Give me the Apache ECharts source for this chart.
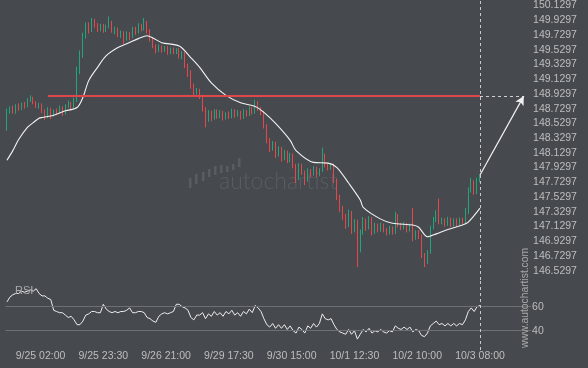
<!DOCTYPE html>
<html><head><meta charset="utf-8">
<script src="https://cdn.jsdelivr.net/npm/echarts@6/dist/echarts.min.js"></script>
<style>html,body{margin:0;padding:0;background:#464a4f}#c{width:588px;height:368px}</style>
</head><body><div id="c"></div><script>
// [open, close, low, high] hourly candles
const candles = [
[148.46,148.68,148.43,148.73],[148.68,148.73,148.66,148.76],[148.73,148.68,148.66,148.77],[148.68,148.77,148.66,148.79],
[148.77,148.72,148.70,148.80],[148.72,148.79,148.71,148.81],[148.79,148.76,148.73,148.82],[148.76,148.84,148.75,148.87],
[148.84,148.88,148.82,148.91],[148.88,148.81,148.79,148.89],[148.81,148.76,148.74,148.83],[148.76,148.79,148.73,148.81],
[148.79,148.70,148.67,148.80],[148.70,148.62,148.58,148.72],[148.62,148.73,148.60,148.75],[148.73,148.64,148.59,148.74],
[148.64,148.70,148.62,148.72],[148.70,148.68,148.64,148.73],[148.68,148.745,148.66,148.77],[148.745,148.66,148.63,148.76],
[148.66,148.76,148.65,148.79],[148.76,148.80,148.74,148.84],[148.80,148.73,148.70,148.82],[148.73,148.84,148.72,148.88],
[148.84,149.25,148.82,149.30],[149.25,149.45,149.20,149.52],[149.45,149.72,149.42,149.76],[149.72,149.86,149.68,149.90],
[149.86,149.79,149.75,149.90],[149.79,149.92,149.77,149.96],[149.92,149.87,149.83,149.95],[149.87,149.81,149.77,149.89],
[149.81,149.86,149.78,149.88],[149.86,149.79,149.76,149.88],[149.79,149.84,149.77,149.87],[149.84,149.90,149.82,149.98],
[149.90,149.79,149.76,149.92],[149.79,149.81,149.74,149.84],[149.81,149.73,149.70,149.83],[149.73,149.76,149.69,149.79],
[149.76,149.68,149.61,149.78],[149.68,149.75,149.65,149.78],[149.75,149.71,149.66,149.77],[149.71,149.81,149.69,149.84],
[149.81,149.77,149.73,149.84],[149.77,149.86,149.75,149.89],[149.86,149.81,149.78,149.88],[149.81,149.90,149.79,149.96],
[149.90,149.79,149.75,149.92],[149.79,149.68,149.64,149.81],[149.68,149.58,149.55,149.70],[149.58,149.52,149.48,149.60],
[149.52,149.57,149.50,149.60],[149.57,149.52,149.49,149.59],[149.52,149.56,149.50,149.58],[149.56,149.49,149.46,149.58],
[149.49,149.54,149.47,149.56],[149.54,149.50,149.47,149.56],[149.50,149.53,149.47,149.55],[149.53,149.45,149.41,149.55],
[149.45,149.48,149.40,149.51],[149.48,149.31,149.28,149.50],[149.31,149.22,149.16,149.34],[149.22,149.04,149.00,149.25],
[149.04,148.95,148.91,149.07],[148.95,148.975,148.92,149.01],[148.975,148.90,148.86,149.00],[148.90,148.73,148.69,148.92],
[148.73,148.57,148.475,148.75],[148.57,148.68,148.55,148.71],[148.68,148.60,148.56,148.70],[148.60,148.70,148.58,148.72],
[148.70,148.62,148.59,148.72],[148.62,148.68,148.60,148.71],[148.68,148.60,148.57,148.70],[148.60,148.66,148.58,148.68],
[148.66,148.62,148.59,148.69],[148.62,148.70,148.60,148.73],[148.70,148.64,148.61,148.72],[148.64,148.68,148.62,148.71],
[148.68,148.61,148.58,148.70],[148.61,148.69,148.59,148.72],[148.69,148.65,148.62,148.71],[148.65,148.73,148.63,148.76],
[148.73,148.68,148.65,148.75],[148.68,148.81,148.66,148.85],[148.81,148.73,148.70,148.83],[148.73,148.68,148.64,148.75],
[148.68,148.50,148.46,148.70],[148.50,148.30,148.26,148.52],[148.30,148.19,148.14,148.33],[148.19,148.26,148.16,148.29],
[148.26,148.10,148.06,148.28],[148.10,148.19,148.08,148.22],[148.19,148.055,148.01,148.21],[148.055,148.14,148.03,148.17],
[148.14,148.03,147.99,148.16],[148.03,148.10,148.00,148.13],[148.10,147.96,147.92,148.12],[147.96,147.785,147.72,147.98],
[147.785,147.96,147.76,147.99],[147.96,147.87,147.83,147.98],[147.87,147.76,147.69,147.89],[147.76,147.89,147.74,147.92],
[147.89,147.84,147.80,147.91],[147.84,147.92,147.82,147.95],[147.92,147.83,147.80,147.94],[147.83,147.89,147.81,147.92],
[147.89,148.10,147.87,148.20],[148.10,147.96,147.93,148.12],[147.96,147.92,147.89,147.99],[147.92,147.96,147.90,147.99],
[147.96,147.76,147.72,147.98],[147.76,147.53,147.49,147.78],[147.53,147.38,147.33,147.56],[147.38,147.28,147.22,147.41],
[147.28,147.15,147.10,147.30],[147.15,147.32,147.12,147.36],[147.32,147.08,147.03,147.34],[147.08,147.19,147.05,147.23],
[147.19,146.81,146.58,147.22],[146.81,147.05,146.78,147.09],[147.05,147.22,147.02,147.26],[147.22,147.11,147.07,147.24],
[147.11,147.24,147.09,147.27],[147.24,147.05,147.01,147.26],[147.05,147.15,147.03,147.18],[147.15,147.08,147.05,147.17],
[147.08,147.15,147.06,147.18],[147.15,147.08,147.05,147.17],[147.08,147.04,147.01,147.11],[147.04,147.11,147.02,147.14],
[147.11,147.05,147.02,147.13],[147.05,147.28,147.03,147.33],[147.28,147.15,147.12,147.30],[147.15,147.11,147.08,147.18],
[147.11,147.16,147.09,147.19],[147.16,147.08,147.05,147.18],[147.08,147.14,147.06,147.17],[147.14,146.97,146.93,147.38],
[146.97,147.05,146.95,147.08],[147.05,147.00,146.96,147.08],[147.00,146.74,146.70,147.02],[146.74,146.65,146.58,146.77],
[146.65,146.78,146.62,146.81],[146.78,147.11,146.76,147.14],[147.11,147.22,147.09,147.26],[147.22,147.32,147.19,147.35],
[147.32,147.19,147.16,147.51],[147.19,147.22,147.16,147.25],[147.22,147.16,147.13,147.24],[147.16,147.23,147.14,147.26],
[147.23,147.15,147.12,147.25],[147.15,147.22,147.13,147.24],[147.22,147.16,147.13,147.24],[147.16,147.23,147.14,147.25],
[147.23,147.19,147.16,147.25],[147.19,147.32,147.17,147.38],[147.32,147.62,147.30,147.66],[147.62,147.73,147.59,147.79],
[147.73,147.595,147.56,147.76],[147.595,147.76,147.57,147.79],[147.76,147.81,147.73,147.83]
];
// moving average, [candle index, price]
const maPoints = [
[0,148.03],[2,148.16],[4,148.31],[7,148.475],[9,148.54],[11,148.60],[12,148.61],[16,148.64],[20,148.70],[24,148.745],
[26,148.88],[28,149.11],[31,149.29],[34,149.45],[38,149.56],[41,149.61],[45,149.68],[48,149.72],[50,149.69],[53,149.625],
[59,149.58],[63,149.42],[66,149.29],[70,149.08],[75,148.91],[80,148.81],[85,148.76],[88,148.68],[92,148.53],[97,148.30],
[99,148.16],[105,148.00],[110,147.99],[113,147.93],[117,147.72],[121,147.49],[122,147.39],[128,147.23],[132,147.175],
[139,147.15],[141,147.12],[144,146.99],[147,147.03],[151,147.09],[156,147.15],[158,147.19],[162,147.38]
];
const rsiValues = [
64,68,70,71,71,73,72,73,74,73,75,71,69,69,67,66,57,56,55,55,53,51,52,49,45,45,48,53,54,56,
56,55,55,62,58,56,55,56,55,56,56,57,59,55,55,56,56,55,51,50,48,47,52,54,55,54,55,56,62,62,
60,59,57,51,49,53,53,55,50,54,52,56,53,55,52,56,54,57,53,55,52,56,54,58,55,61,59,56,50,45,
43,46,42,45,42,45,41,44,40,38,43,41,38,44,42,46,43,46,54,50,49,50,45,41,39,38,37,41,37,40,
33,37,41,39,42,38,40,39,41,39,38,40,39,44,42,41,43,41,43,39,41,40,36,35,38,44,46,48,45,46,
44,46,44,46,44,46,45,49,56,59,56,60,61
];
const priceTicks = [146.5297,146.7297,146.9297,147.1297,147.3297,147.5297,147.7297,147.9297,148.1297,148.3297,
148.5297,148.7297,148.9297,149.1297,149.3297,149.5297,149.7297,149.9297,150.1297];
const rsiTicks = [40, 60];
const timeLabels = ['9/25 02:00','9/25 23:30','9/26 21:00','9/29 17:30','9/30 15:00','10/1 12:30','10/2 10:00','10/3 08:00'];
const timeLabelSlots = [11.5, 33, 54.5, 76, 97.5, 119, 140.5, 162];
const futureSlots = 17;
const targetLevel = 148.90;
const arrowStartPrice = 147.83;
const levelStartSlot = 13.5;
const targetSlot = 177;

const N = candles.length + futureSlots;
const slots = Array.from({length: N}, (_, i) => i);
const last = candles.length - 1;
const GREEN = '#22a57b', RED = '#e5474b', LBL = '#bdbdbd';
const FONT = 'Liberation Sans, Arial, sans-serif';

const chart = echarts.init(document.getElementById('c'), null, {renderer: 'canvas'});
const hidden = {axisLine:{show:false}, axisTick:{show:false}, splitLine:{show:false}};
const labelCV = timeLabelSlots.map(s => s + 0.5);

chart.setOption({
  backgroundColor: '#464a4f',
  animation: false,
  textStyle: {fontFamily: FONT},
  grid: [
    {left: 5.5, width: 525.6, top: 0, height: 280},
    {left: 5.5, width: 525.6, top: 280, height: 70}
  ],
  xAxis: [
    Object.assign({type: 'category', gridIndex: 0, data: slots, boundaryGap: true, axisLabel: {show: false}}, hidden),
    Object.assign({type: 'value', gridIndex: 1, min: 0, max: N, position: 'bottom',
      axisLabel: {customValues: labelCV, color: LBL, fontSize: 10.5, margin: 1, fontFamily: FONT,
        formatter: v => { const k = labelCV.findIndex(c => Math.abs(c - v) < 1e-6); return k >= 0 ? timeLabels[k] : ''; }}}, hidden)
  ],
  yAxis: [
    Object.assign({type: 'value', gridIndex: 0, position: 'right', min: 146.4038, max: 150.1933,
      axisLabel: {customValues: priceTicks, formatter: v => v.toFixed(4), color: LBL, fontSize: 10.5, margin: 2, fontFamily: FONT}}, hidden),
    Object.assign({type: 'value', gridIndex: 1, position: 'right', min: 23.9, max: 82.25,
      axisLabel: {customValues: rsiTicks, formatter: v => String(Math.round(v)), color: LBL, fontSize: 10.5, margin: 1, fontFamily: FONT}}, hidden)
  ],
  graphic: [
    {type: 'text', left: 219, top: 170, z: 0, silent: true,
     style: {text: 'autochartist', fill: '#595d62', font: '300 23px Lato, sans-serif'}},
    {type: 'group', z: 0, silent: true, children: [
      [189,178,188],[195,174,184],[202,172,181],[208,169,177],[214,166,175],[220,165,173],[226,166,172],[232,164,170],[238,158,167]
    ].map(b => ({type: 'rect', shape: {x: b[0], y: b[1], width: 2.5, height: b[2]-b[1]}, style: {fill: '#595d62'}}))},
    {type: 'text', left: 15, top: 285, z: 10, silent: true,
     style: {text: 'RSI', fill: '#a9acaf', font: '11px ' + FONT}},
    {type: 'text', x: 525, y: 298, rotation: Math.PI / 2, z: 10, silent: true,
     style: {text: 'www.autochartist.com', fill: '#a8a8a8', font: '10.3px ' + FONT, align: 'center', verticalAlign: 'middle'}}
  ],
  series: [
    {type: 'candlestick', xAxisIndex: 0, yAxisIndex: 0, data: candles, barWidth: 1,
     itemStyle: {color: GREEN, color0: RED, borderColor: GREEN, borderColor0: RED, borderWidth: 1},
     markLine: {silent: true, symbol: 'none', label: {show: false}, animation: false,
       data: [
         [{coord: [levelStartSlot, targetLevel], lineStyle: {color: '#e0464b', width: 2.2, type: 'solid'}}, {coord: [last, targetLevel]}],
         [{coord: [last, targetLevel], lineStyle: {color: '#cfcfcf', width: 1, type: [3, 3]}}, {coord: [targetSlot, targetLevel]}],
         {xAxis: last, lineStyle: {color: '#c8c8c8', width: 1, type: [3, 3]}},
         [{coord: [last, arrowStartPrice], symbol: 'none', lineStyle: {color: '#f2f2f2', width: 1.2, type: 'solid'}},
          {coord: [targetSlot, targetLevel], symbol: 'arrow', symbolSize: [7, 9]}]
       ]}},
    {type: 'line', xAxisIndex: 0, yAxisIndex: 0, data: maPoints, showSymbol: false, smooth: 0.3,
     lineStyle: {color: '#f2f2f2', width: 1.1}, z: 3},
    {type: 'line', xAxisIndex: 1, yAxisIndex: 1, data: rsiValues.map((v, i) => [i + 0.5, v]), showSymbol: false,
     lineStyle: {color: '#ececec', width: 1},
     markLine: {silent: true, symbol: 'none', label: {show: false}, animation: false,
       data: [
         {yAxis: 60, lineStyle: {color: '#6c7075', width: 1, type: 'solid'}},
         {yAxis: 40, lineStyle: {color: '#6c7075', width: 1, type: 'solid'}},
         {xAxis: last + 0.5, lineStyle: {color: '#c8c8c8', width: 1, type: [3, 3]}}
       ]}}
  ]
});
</script></body></html>
